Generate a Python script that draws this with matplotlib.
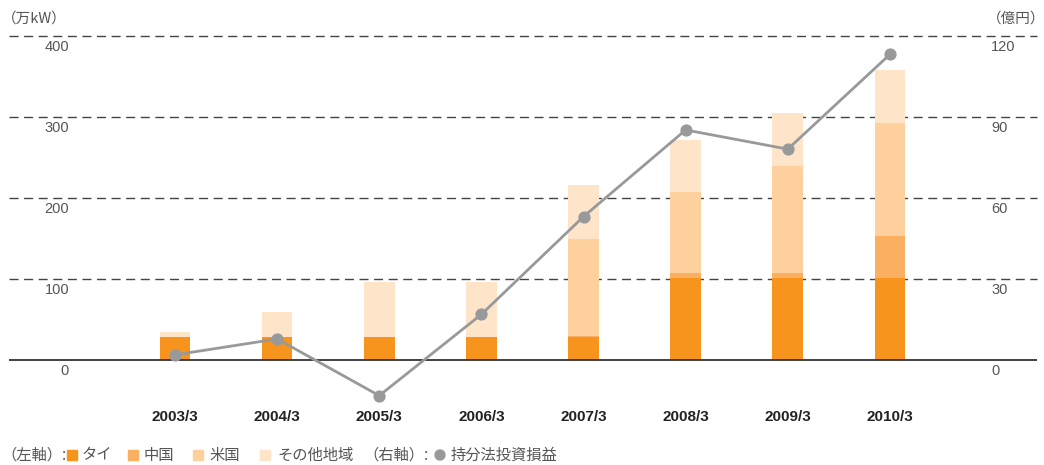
import matplotlib
matplotlib.use("Agg")
import matplotlib.pyplot as plt
from matplotlib.patches import Rectangle, Circle
import numpy as np

# data
years = ["2003/3", "2004/3", "2005/3", "2006/3", "2007/3", "2008/3", "2009/3", "2010/3"]
thai = [28, 28, 28, 28, 28, 101, 101, 101]
china = [1, 1, 1, 1, 2, 7, 7, 52]
usa = [0, 0, 0, 0, 119, 99, 132, 140]
other = [5, 30, 67, 67, 67, 65, 65, 65]
equity = [1.9, 7.8, -13.2, 16.9, 53.1, 85.2, 78.1, 113.2]

left_ticks = [0, 100, 200, 300, 400]
right_ticks = [0, 30, 60, 90, 120]

c_thai = "#F7941D"
c_china = "#FBB061"
c_usa = "#FDD09E"
c_other = "#FEE4C8"
c_line = "#98999B"

JP = ["Noto Sans CJK JP", "DejaVu Sans"]
NUM = "Liberation Sans"

W, H = 1044, 465
fig = plt.figure(figsize=(W / 100, H / 100), dpi=100)

# axes: x from 9 to 1037 px, y from 36 (400) to ~408.6 (-60)
ax = fig.add_axes([9 / W, 1 - 408.6 / H, 1028 / W, (408.6 - 36) / H])
ax2 = ax.twinx()

x = np.arange(len(years))
bw = 0.30
b1 = np.array(thai)
b2 = b1 + np.array(china)
b3 = b2 + np.array(usa)
ax.bar(x, thai, bw, color=c_thai, zorder=2)
ax.bar(x, china, bw, bottom=b1, color=c_china, zorder=2)
ax.bar(x, usa, bw, bottom=b2, color=c_usa, zorder=2)
ax.bar(x, other, bw, bottom=b3, color=c_other, zorder=2)

ax.set_xlim(-1.625, 8.44)
ax.set_ylim(-60, 400)
ax2.set_ylim(-18, 120)

# dashed grid lines and baseline
for v in left_ticks[1:]:
    ax.axhline(v, color="#444444", lw=1.0, dashes=(6.5, 4), zorder=1, clip_on=False)
ax.axhline(0, color="#333333", lw=1.3, zorder=3)

ax2.plot(x, equity, color=c_line, lw=2.0, marker="o", ms=7.8,
         markerfacecolor=c_line, markeredgecolor=c_line, zorder=5)

for a in (ax, ax2):
    for s in a.spines.values():
        s.set_visible(False)
    a.set_xticks([])
    a.set_yticks([])
    a.patch.set_visible(False)

# tick labels
for v in left_ticks:
    ax.annotate(str(v), xy=(0, v), xycoords=("axes fraction", "data"),
                xytext=(60, -11), textcoords="offset pixels",
                ha="right", va="center", fontsize=10.5, color="#555555", family=NUM)
for v in right_ticks:
    ax2.annotate(str(v), xy=(1, v), xycoords=("axes fraction", "data"),
                 xytext=(-46, -11), textcoords="offset pixels",
                 ha="left", va="center", fontsize=10.5, color="#555555", family=NUM)
for i, y in enumerate(years):
    ax.annotate(y, xy=(i, 0), xycoords="data", xytext=(0, -57),
                textcoords="offset pixels", ha="center", va="center",
                fontsize=11, fontweight="bold", color="#222222", family=NUM)

# unit labels
fig.text(2 / W, 1 - 19 / H, "（万kW）", ha="left", va="center", fontsize=10.5,
         color="#555555", family=JP)
fig.text(1045 / W, 1 - 19 / H, "（億円）", ha="right", va="center", fontsize=10.5,
         color="#555555", family=JP)

# legend
ly = 455
def ftext(px, s):
    fig.text(px / W, 1 - ly / H, s, ha="left", va="center", fontsize=11,
             color="#555555", family=JP)

def fsquare(px, c):
    fig.patches.append(Rectangle((px / W, 1 - (ly + 5) / H), 10 / W, 10 / H,
                                 transform=fig.transFigure, color=c))

ftext(1, "（左軸）:")
fsquare(67, c_thai)
ftext(82, "タイ")
fsquare(128, c_china)
ftext(144, "中国")
fsquare(193, c_usa)
ftext(209, "米国")
fsquare(260, c_other)
ftext(277, "その他地域")
ftext(363, "（右軸）:")
fig.patches.append(Circle((440, H - ly), 5, transform=None, color=c_line))
ftext(451, "持分法投資損益")

fig.savefig("out.png", dpi=100)
